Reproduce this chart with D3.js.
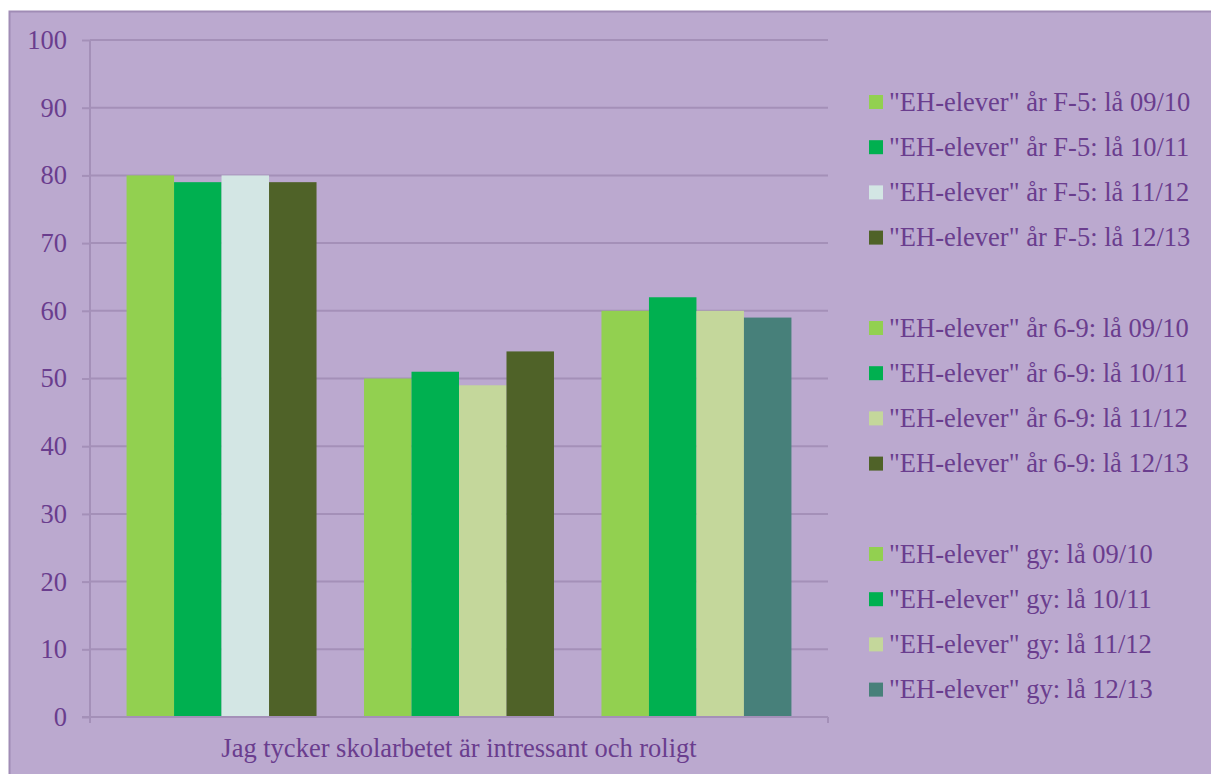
<!DOCTYPE html>
<html><head><meta charset="utf-8">
<script src="https://cdn.jsdelivr.net/npm/d3@7"></script>
<style>html,body{margin:0;padding:0;background:#fff;}svg{display:block;}</style>
</head><body>
<script>
const category = "Jag tycker skolarbetet är intressant och roligt";
const groups = ["F-5", "6-9", "gy"];
const seriesNames = [
  '"EH-elever" år F-5: lå 09/10', '"EH-elever" år F-5: lå 10/11', '"EH-elever" år F-5: lå 11/12', '"EH-elever" år F-5: lå 12/13',
  '"EH-elever" år 6-9: lå 09/10', '"EH-elever" år 6-9: lå 10/11', '"EH-elever" år 6-9: lå 11/12', '"EH-elever" år 6-9: lå 12/13',
  '"EH-elever" gy: lå 09/10', '"EH-elever" gy: lå 10/11', '"EH-elever" gy: lå 11/12', '"EH-elever" gy: lå 12/13'
];
const seriesGroup = [0,0,0,0,1,1,1,1,2,2,2,2];
const values = [80, 79, 80, 79, 50, 51, 49, 54, 60, 62, 60, 59];
const colors = ["#92D050","#00B050","#D3E6E4","#4F6228","#92D050","#00B050","#C4D79B","#4F6228","#92D050","#00B050","#C4D79B","#47807A"];
const yTicks = [0,10,20,30,40,50,60,70,80,90,100];

(function(){
const W = 1211, H = 774;
const svg = d3.select("body").append("svg").attr("width", W).attr("height", H);
const textColor = "#6A3D8E", gridColor = "#A490B8", font = "'Liberation Serif','Times New Roman',serif";
const fs = "26.5px";

svg.append("rect").attr("x", 9.5).attr("y", 11.5).attr("width", W).attr("height", H)
  .attr("fill", "#BBA9CF").attr("stroke", "#A08CB5").attr("stroke-width", 2);

const pLeft = 90, pRight = 828, pTop = 40, pBottom = 717;
const y = d3.scaleLinear().domain([0, 100]).range([pBottom, pTop]);

const slots = [];
seriesNames.forEach((s, i) => {
  if (i > 0 && seriesGroup[i] !== seriesGroup[i-1]) slots.push("gap" + i);
  slots.push("s" + i);
});
const xCat = d3.scaleBand().domain([category]).range([pLeft, pRight]).padding(0);
const x = d3.scaleBand().domain(slots).range([xCat(category), xCat(category) + xCat.bandwidth()])
  .paddingInner(0).paddingOuter(0.77);

svg.append("g").selectAll("line").data(yTicks.filter(t => t > 0)).join("line")
  .attr("x1", pLeft).attr("x2", pRight).attr("y1", d => y(d)).attr("y2", d => y(d))
  .attr("stroke", gridColor).attr("stroke-width", 2);

svg.append("g").selectAll("rect").data(values).join("rect")
  .attr("x", (d, i) => x("s" + i)).attr("width", x.bandwidth())
  .attr("y", d => y(d)).attr("height", d => y(0) - y(d))
  .attr("fill", (d, i) => colors[i]);

const yAxis = svg.append("g").attr("transform", `translate(${pLeft},0)`)
  .attr("font-family", font).attr("font-size", fs)
  .call(d3.axisLeft(y).tickValues(yTicks).tickSize(8).tickPadding(15));
yAxis.attr("font-family", font).attr("font-size", fs);
yAxis.select(".domain").attr("stroke", gridColor).attr("stroke-width", 2).attr("d", `M0,${pTop}V${pBottom+6}`);
yAxis.selectAll(".tick line").attr("stroke", gridColor).attr("stroke-width", 2);
yAxis.selectAll(".tick text").attr("fill", textColor).style("font-family", font).style("font-size", fs);

const xAxis = svg.append("g").attr("transform", `translate(0,${pBottom})`)
  .call(d3.axisBottom(xCat).tickSize(0).tickPadding(21));
xAxis.attr("font-family", font).attr("font-size", fs);
xAxis.select(".domain").attr("stroke", gridColor).attr("stroke-width", 2).attr("d", `M${pLeft-8},0H${pRight}`);
xAxis.selectAll(".tick text").attr("fill", textColor).style("font-family", font).style("font-size", fs);
svg.append("line").attr("x1", pRight).attr("x2", pRight).attr("y1", pBottom).attr("y2", pBottom + 6)
  .attr("stroke", gridColor).attr("stroke-width", 2);

const rowY = (i) => 102 + (i + seriesGroup[i]) * 45.2;
const lg = svg.append("g").selectAll("g").data(seriesNames).join("g")
  .attr("transform", (d, i) => `translate(869,${rowY(i)})`);
lg.append("rect").attr("x", 0).attr("y", -7).attr("width", 14).attr("height", 14).attr("fill", (d, i) => colors[i]);
lg.append("text").attr("x", 20).attr("y", 0).attr("dy", "0.33em").text(d => d)
  .attr("fill", textColor).style("font-family", font).style("font-size", fs);
})();
</script>
</body></html>
